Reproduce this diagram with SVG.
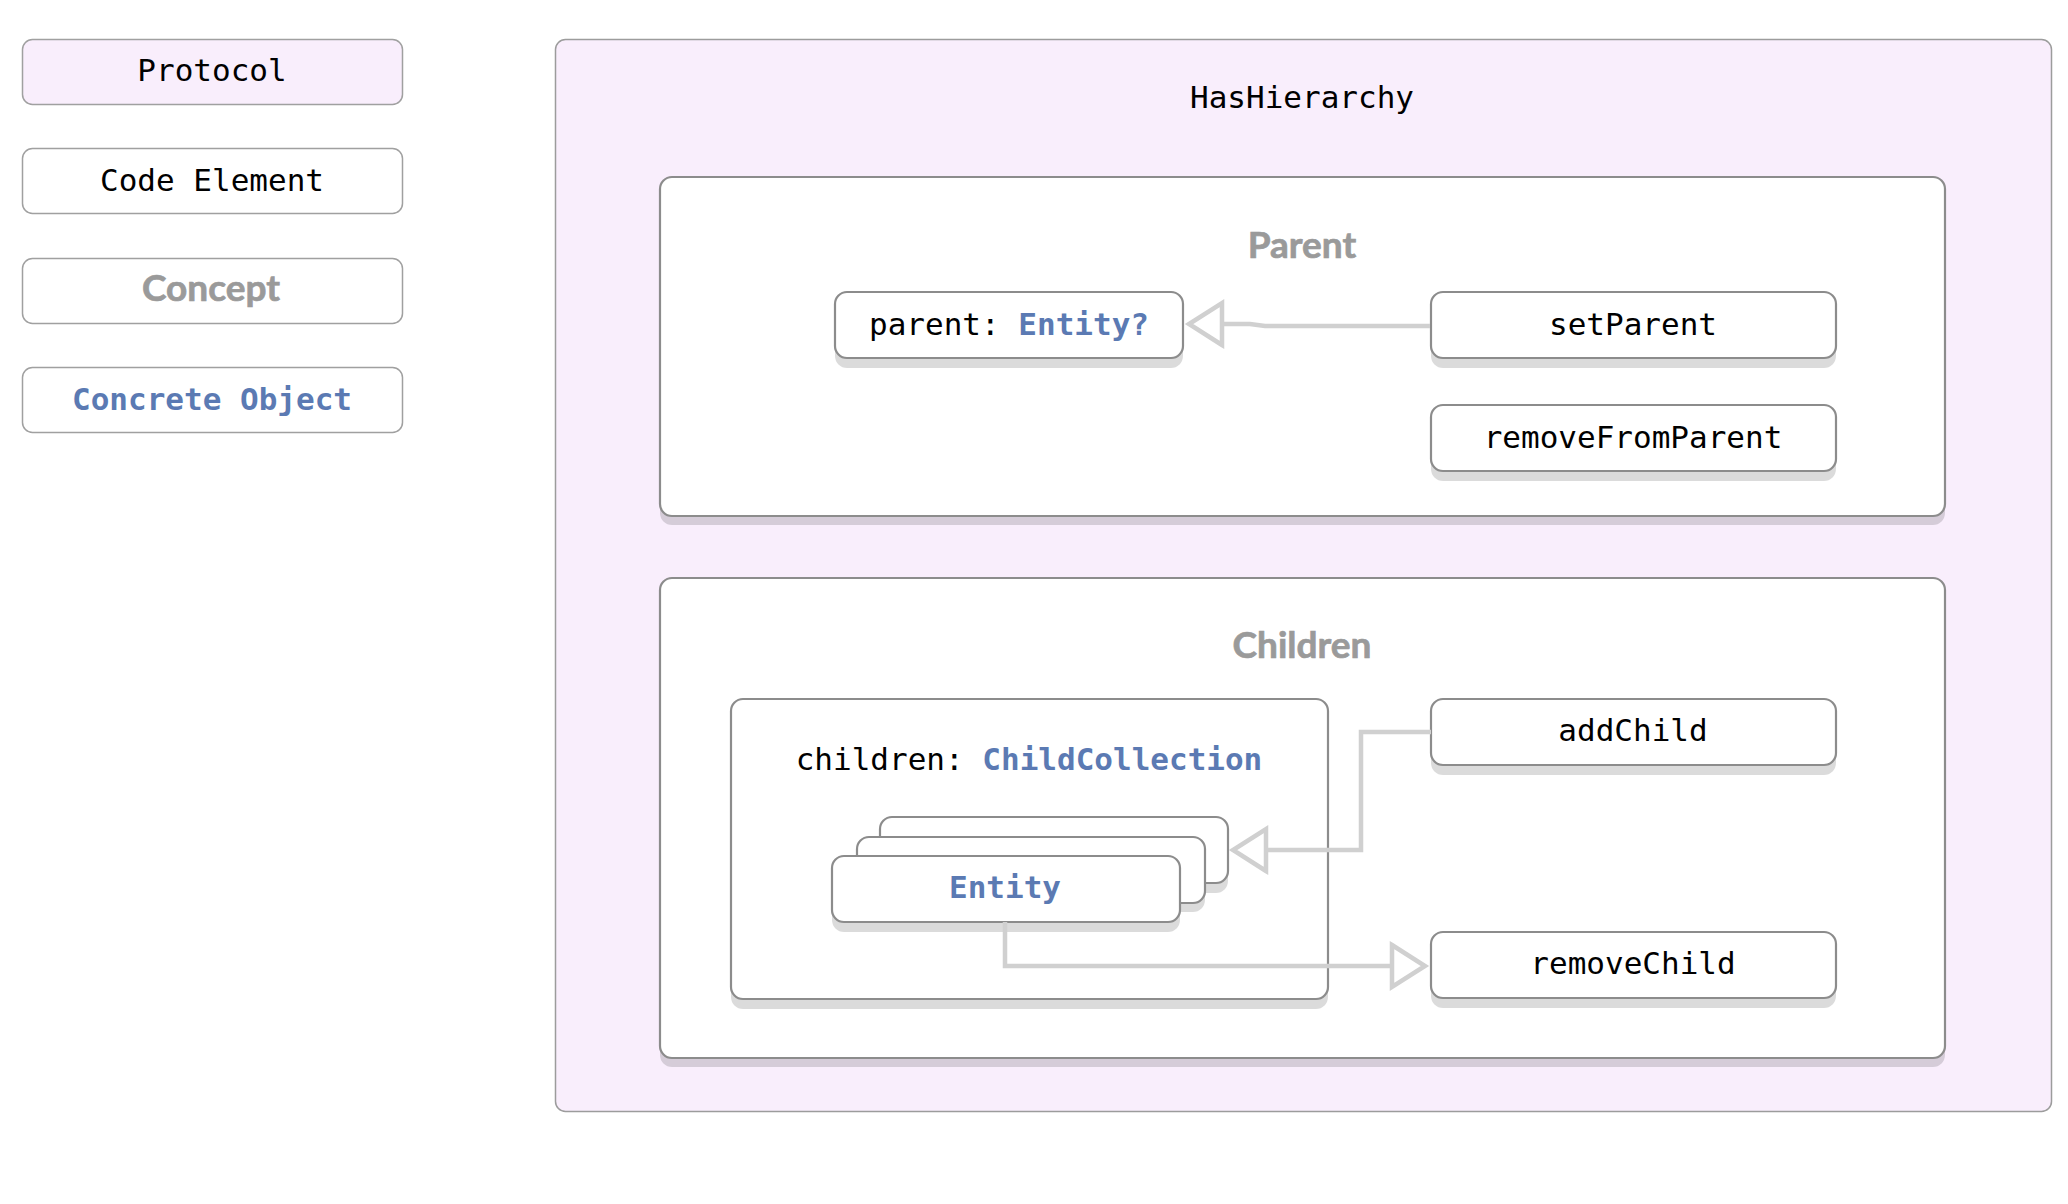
<svg xmlns="http://www.w3.org/2000/svg" width="2068" height="1204" viewBox="0 0 2068 1204">
<defs>
<style>
.mono{font-family:"DejaVu Sans Mono","Liberation Mono",monospace;font-size:31px;fill:#000}
.blue{fill:#5b7ab3;font-weight:bold}
.sans{font-family:Lato,"Noto Sans","Liberation Sans",sans-serif;font-weight:bold;font-size:37px;fill:#9a9a9a;stroke:#9a9a9a;stroke-width:0.7}
.legend{fill:#fff;stroke:#a0a0a0;stroke-width:1.5}
.box{fill:#fff;stroke:#8c8c8c;stroke-width:2.2}
.shadow{fill:#000;fill-opacity:0.14}
.conn{fill:none;stroke:#d0d0d0;stroke-width:4.5}
</style>
<marker id="tri" markerUnits="userSpaceOnUse" markerWidth="40" markerHeight="48" viewBox="-3 -3 40 48" refX="33" refY="21" orient="auto" overflow="visible">
<path d="M0,0 L33,21 L0,42 Z" fill="#fff" stroke="#d0d0d0" stroke-width="4.5" stroke-linejoin="miter"/>
</marker>
</defs>
<rect width="2068" height="1204" fill="#fff"/>

<g id="legend-protocol">
<rect class="legend" x="22.5" y="39.5" width="380" height="65" rx="10" style="fill:#f9eefc"/>
<text class="mono" x="212" y="81" text-anchor="middle">Protocol</text>
</g>
<g id="legend-code-element">
<rect class="legend" x="22.5" y="148.5" width="380" height="65" rx="10"/>
<text class="mono" x="212" y="190.5" text-anchor="middle">Code Element</text>
</g>
<g id="legend-concept">
<rect class="legend" x="22.5" y="258.5" width="380" height="65" rx="10"/>
<text class="sans" x="211" y="301" text-anchor="middle">Concept</text>
</g>
<g id="legend-concrete-object">
<rect class="legend" x="22.5" y="367.5" width="380" height="65" rx="10"/>
<text class="mono blue" x="212" y="410" text-anchor="middle">Concrete Object</text>
</g>

<g id="HasHierarchy">
<rect x="555.5" y="39.5" width="1496" height="1072" rx="10" fill="#f9eefc" stroke="#9c9c9c" stroke-width="1.5"/>
<text class="mono" x="1302" y="108" text-anchor="middle">HasHierarchy</text>
</g>

<g id="Parent">
<rect class="shadow" x="660" y="186" width="1285" height="339" rx="12"/>
<rect class="box" x="660" y="177" width="1285" height="339" rx="12"/>
<text class="sans" x="1302" y="258" text-anchor="middle">Parent</text>
</g>

<g id="Children">
<rect class="shadow" x="660" y="587" width="1285" height="480" rx="12"/>
<rect class="box" x="660" y="578" width="1285" height="480" rx="12"/>
<text class="sans" x="1302" y="658" text-anchor="middle">Children</text>
</g>

<g id="parent-property">
<rect class="shadow" x="835" y="302" width="348" height="66" rx="12"/>
<rect class="box" x="835" y="292" width="348" height="66" rx="12"/>
<text class="mono" x="1009" y="335" text-anchor="middle">parent: <tspan class="blue">Entity?</tspan></text>
</g>

<g id="setParent">
<rect class="shadow" x="1431" y="302" width="405" height="66" rx="12"/>
<rect class="box" x="1431" y="292" width="405" height="66" rx="12"/>
<text class="mono" x="1633" y="335" text-anchor="middle">setParent</text>
</g>

<g id="removeFromParent">
<rect class="shadow" x="1431" y="415" width="405" height="66" rx="12"/>
<rect class="box" x="1431" y="405" width="405" height="66" rx="12"/>
<text class="mono" x="1633" y="448" text-anchor="middle">removeFromParent</text>
</g>

<g id="children-property">
<rect class="shadow" x="731" y="709" width="597" height="300" rx="12"/>
<rect class="box" x="731" y="699" width="597" height="300" rx="12"/>
<text class="mono" x="1029" y="770" text-anchor="middle">children: <tspan class="blue">ChildCollection</tspan></text>
</g>

<g id="entity-stack">
<rect class="shadow" x="880" y="827" width="348" height="66" rx="12"/>
<rect class="box" x="880" y="817" width="348" height="66" rx="12"/>
<rect class="shadow" x="857" y="846" width="348" height="66" rx="12"/>
<rect class="box" x="857" y="837" width="348" height="66" rx="12"/>
<rect class="shadow" x="832" y="866" width="348" height="66" rx="12"/>
<rect class="box" x="832" y="856" width="348" height="66" rx="12"/>
<text class="mono blue" x="1005" y="898" text-anchor="middle">Entity</text>
</g>

<g id="addChild">
<rect class="shadow" x="1431" y="709" width="405" height="66" rx="12"/>
<rect class="box" x="1431" y="699" width="405" height="66" rx="12"/>
<text class="mono" x="1633" y="741" text-anchor="middle">addChild</text>
</g>

<g id="removeChild">
<rect class="shadow" x="1431" y="942" width="405" height="66" rx="12"/>
<rect class="box" x="1431" y="932" width="405" height="66" rx="12"/>
<text class="mono" x="1633" y="974" text-anchor="middle">removeChild</text>
</g>

<g id="connectors">
<path class="conn" d="M1430,326 L1265,326 L1250,324 L1189,324" marker-end="url(#tri)"/>
<path class="conn" d="M1431,732 L1361,732 L1361,850 L1233,850" marker-end="url(#tri)"/>
<path class="conn" d="M1005,922 L1005,966 L1425,966" marker-end="url(#tri)"/>
</g>
</svg>
